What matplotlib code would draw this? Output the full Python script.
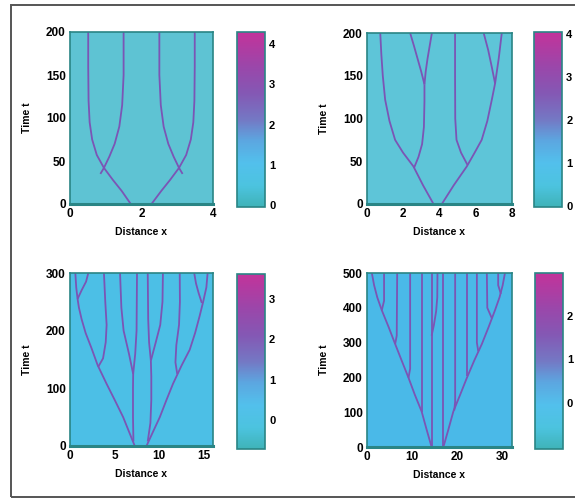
import matplotlib
matplotlib.use("Agg")
import matplotlib.pyplot as plt
from matplotlib.colors import LinearSegmentedColormap, Normalize
from matplotlib.cm import ScalarMappable
from matplotlib.patches import Rectangle

plt.rcParams['font.family'] = ['Liberation Sans', 'DejaVu Sans']
plt.rcParams['font.weight'] = 'bold'

# ---------------- data ----------------
# each branch: (x values, t values)
P1_XLIM, P1_TLIM = (0, 4), (0, 200)
P1_XTICKS, P1_TTICKS = [0, 2, 4], [0, 50, 100, 150, 200]
P1_CBAR = (-0.05, 4.3)
P1_CTICKS = [0, 1, 2, 3, 4]
P1_BRANCHES = [
    ([1.70, 1.45, 1.2, 0.95, 0.75, 0.62, 0.55, 0.52, 0.51, 0.51],
     [0, 15, 28, 42, 57, 75, 95, 120, 160, 200]),
    ([0.85, 0.95, 1.1, 1.25, 1.38, 1.46, 1.5, 1.5],
     [35, 42, 55, 70, 90, 115, 150, 200]),
    ([2.28, 2.55, 2.8, 3.05, 3.25, 3.38, 3.45, 3.48, 3.49, 3.49],
     [0, 15, 28, 42, 57, 75, 95, 120, 160, 200]),
    ([3.15, 3.05, 2.9, 2.75, 2.62, 2.54, 2.5, 2.5],
     [35, 42, 55, 70, 90, 115, 150, 200]),
]

P2_XLIM, P2_TLIM = (0, 8), (0, 200)
P2_XTICKS, P2_TTICKS = [0, 2, 4, 6, 8], [0, 50, 100, 150, 200]
P2_CBAR = (-0.03, 4.05)
P2_CTICKS = [0, 1, 2, 3, 4]
P2_BRANCHES = [
    ([3.68, 3.1, 2.57, 2.0, 1.56, 1.25, 1.01, 0.88, 0.8, 0.74],
     [0, 22, 44, 60, 75, 97, 122, 150, 175, 200]),
    ([2.6, 2.85, 3.05, 3.15, 3.18, 3.18], [42, 55, 70, 90, 120, 140]),
    ([3.18, 3.0, 2.8, 2.6, 2.39], [140, 155, 170, 185, 200]),
    ([3.18, 3.25, 3.35, 3.47, 3.59], [140, 155, 170, 185, 200]),
    ([4.14, 4.8, 5.52, 5.95, 6.34, 6.65, 6.9, 7.08, 7.28, 7.45],
     [0, 22, 44, 60, 75, 97, 122, 141, 170, 200]),
    ([5.55, 5.2, 4.95, 4.88, 4.87, 4.87], [46, 60, 75, 100, 150, 200]),
    ([7.08, 6.9, 6.7, 6.45], [141, 160, 180, 200]),
]

P3_XLIM, P3_TLIM = (0, 16), (0, 300)
P3_XTICKS, P3_TTICKS = [0, 5, 10, 15], [0, 100, 200, 300]
P3_CBAR = (-0.72, 3.62)
P3_CTICKS = [0, 1, 2, 3]
P3_BRANCHES = [
    ([7.25, 6.6, 5.95, 5.0, 4.09, 3.1, 2.4, 1.75, 1.3, 1.0, 0.85],
     [0, 25, 50, 80, 108, 140, 170, 196, 220, 240, 255]),
    ([0.85, 0.7, 0.6], [255, 275, 300]),
    ([0.85, 1.3, 1.8, 2.05], [255, 270, 285, 300]),
    ([7.1, 7.05, 7.05, 7.07], [8, 50, 100, 125]),
    ([7.07, 6.6, 6.0, 5.75, 5.6], [125, 160, 200, 240, 300]),
    ([7.07, 7.3, 7.45, 7.5], [125, 160, 200, 300]),
    ([3.15, 3.7, 4.0, 4.1, 3.95, 3.8], [137, 152, 180, 210, 250, 300]),
    ([8.56, 9.3, 10.05, 10.8, 11.53, 12.5, 13.4, 14.0, 14.5, 14.9, 15.26, 15.4],
     [0, 25, 50, 80, 108, 140, 167, 196, 225, 250, 275, 300]),
    ([12.0, 11.8, 11.9, 12.2, 12.3, 12.28], [125, 145, 175, 210, 250, 300]),
    ([14.75, 14.4, 14.1, 13.9], [248, 265, 282, 300]),
    ([8.7, 9.0, 9.1, 9.1, 9.05], [8, 40, 80, 120, 148]),
    ([9.05, 8.85, 8.75, 8.7], [148, 180, 220, 300]),
    ([9.05, 9.6, 10.1, 10.35, 10.4], [148, 180, 210, 250, 300]),
]

P4_XLIM, P4_TLIM = (0, 32), (0, 500)
P4_XTICKS, P4_TTICKS = [0, 10, 20, 30], [0, 100, 200, 300, 400, 500]
P4_CBAR = (-1.07, 3.0)
P4_CTICKS = [0, 1, 2]
P4_BRANCHES = [
    ([14.3, 13.2, 12.1, 10.6, 9.2, 7.7, 6.25, 4.8, 3.3, 2.3, 1.6, 1.1],
     [0, 50, 102, 150, 199, 248, 296, 345, 393, 430, 465, 500]),
    ([16.9, 18.0, 19.1, 20.6, 22.1, 23.7, 25.4, 26.9, 28.3, 29.3, 30.0, 30.5],
     [0, 50, 102, 150, 199, 248, 296, 345, 393, 430, 465, 500]),
    ([14.3, 14.3], [0, 500]),
    ([16.9, 16.9], [0, 500]),
    ([14.3, 14.8, 15.3, 15.55, 15.6], [320, 350, 390, 430, 500]),
    ([12.1, 12.1], [102, 500]),
    ([19.3, 19.5, 19.5], [105, 130, 500]),
    ([9.2, 9.56, 9.56], [199, 225, 500]),
    ([22.1, 22.1], [205, 500]),
    ([6.25, 6.6, 6.7], [296, 320, 500]),
    ([24.6, 24.3, 24.3], [275, 300, 500]),
    ([3.3, 3.8, 3.8], [393, 420, 500]),
    ([27.6, 26.6, 26.5], [370, 400, 500]),
    ([29.6, 29.0, 29.0], [440, 465, 500]),
]

# ---------------- style ----------------
CMAP = LinearSegmentedColormap.from_list("wave", [
    (0.00, '#3fb3b8'), (0.12, '#4cc3df'), (0.25, '#52c0ec'),
    (0.38, '#5ca6e0'), (0.50, '#7478c4'), (0.65, '#8458b4'),
    (0.80, '#9a47aa'), (1.00, '#c2339a')])
LINE_COLOR = '#7b55b5'
SPINE = '#2a8585'
BG = ['#5ec3d3', '#5ec5d8', '#4cbfe6', '#4ab9e8']

fig = plt.figure(figsize=(5.75, 5.0), dpi=100)
fig.patches.append(Rectangle((0.019, 0.006), 1.2, 0.984, transform=fig.transFigure,
                             fill=False, edgecolor='#555555', lw=1.4))

panels = [
    (P1_BRANCHES, P1_XLIM, P1_TLIM, P1_XTICKS, P1_TTICKS, P1_CBAR, P1_CTICKS,
     [0.1217, 0.592, 0.2487, 0.344], [0.412, 0.586, 0.0487, 0.350]),
    (P2_BRANCHES, P2_XLIM, P2_TLIM, P2_XTICKS, P2_TTICKS, P2_CBAR, P2_CTICKS,
     [0.638, 0.592, 0.252, 0.342], [0.9287, 0.586, 0.0487, 0.350]),
    (P3_BRANCHES, P3_XLIM, P3_TLIM, P3_XTICKS, P3_TTICKS, P3_CBAR, P3_CTICKS,
     [0.1217, 0.108, 0.2487, 0.346], [0.412, 0.102, 0.0487, 0.350]),
    (P4_BRANCHES, P4_XLIM, P4_TLIM, P4_XTICKS, P4_TTICKS, P4_CBAR, P4_CTICKS,
     [0.638, 0.106, 0.252, 0.348], [0.930, 0.102, 0.0487, 0.352]),
]

for i, (branches, xlim, tlim, xt, tt, crange, ct, apos, cpos) in enumerate(panels):
    ax = fig.add_axes(apos)
    ax.set_facecolor(BG[i])
    for xs, ts in branches:
        ax.plot(xs, ts, color=LINE_COLOR, lw=1.3, solid_capstyle='butt')
    ax.set_xlim(*xlim)
    ax.set_ylim(*tlim)
    ax.set_xticks(xt)
    ax.set_yticks(tt)
    ax.tick_params(length=0, labelsize=8.5, pad=3)
    for s in ax.spines.values():
        s.set_color(SPINE)
        s.set_linewidth(1.2)
    ax.spines['bottom'].set_linewidth(2.2)
    ax.set_xlabel('Distance x', fontsize=7.5, fontweight='bold', labelpad=5)
    ax.set_ylabel('Time t', fontsize=7.5, fontweight='bold', labelpad=10)

    cax = fig.add_axes(cpos)
    sm = ScalarMappable(norm=Normalize(*crange), cmap=CMAP)
    cb = fig.colorbar(sm, cax=cax, ticks=ct)
    cb.outline.set_edgecolor(SPINE)
    cb.outline.set_linewidth(1.2)
    cax.tick_params(length=0, labelsize=8, pad=3)

fig.savefig('out.png', dpi=100)
